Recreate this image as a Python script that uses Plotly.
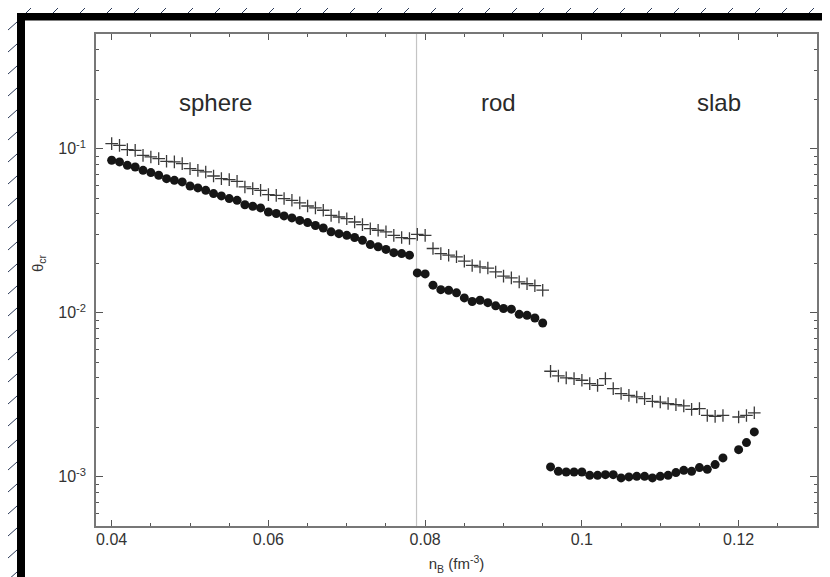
import math
import plotly.graph_objects as go

# critical angle theta_cr vs baryon density n_B
nb_sphere = [0.040, 0.041, 0.042, 0.043, 0.044, 0.045, 0.046, 0.047, 0.048, 0.049,
             0.050, 0.051, 0.052, 0.053, 0.054, 0.055, 0.056, 0.057, 0.058, 0.059,
             0.060, 0.061, 0.062, 0.063, 0.064, 0.065, 0.066, 0.067, 0.068, 0.069,
             0.070, 0.071, 0.072, 0.073, 0.074, 0.075, 0.076, 0.077, 0.078]
plus_sphere = [0.1073, 0.1047, 0.0986, 0.0976, 0.0910, 0.0890, 0.0869, 0.0837, 0.0830, 0.0810,
               0.0755, 0.0737, 0.0721, 0.0681, 0.0656, 0.0647, 0.0632, 0.0584, 0.0570, 0.0557,
               0.0524, 0.0519, 0.0496, 0.0484, 0.0467, 0.0447, 0.0435, 0.0421, 0.0392, 0.0383,
               0.0374, 0.0357, 0.0344, 0.0325, 0.0318, 0.0311, 0.0296, 0.0287, 0.0283]
dot_sphere = [0.0849, 0.0830, 0.0791, 0.0773, 0.0737, 0.0714, 0.0688, 0.0656, 0.0641, 0.0627,
              0.0592, 0.0576, 0.0557, 0.0532, 0.0515, 0.0496, 0.0484, 0.0455, 0.0445, 0.0435,
              0.0411, 0.0402, 0.0389, 0.0378, 0.0365, 0.0354, 0.0340, 0.0328, 0.0311, 0.0303,
              0.0296, 0.0287, 0.0276, 0.0260, 0.0252, 0.0243, 0.0232, 0.0229, 0.0224]

nb_rod = [0.079, 0.080, 0.081, 0.082, 0.083, 0.084, 0.085, 0.086, 0.087, 0.088,
          0.089, 0.090, 0.091, 0.092, 0.093, 0.094, 0.095]
plus_rod = [0.0300, 0.0296, 0.0246, 0.0229, 0.0224, 0.0219, 0.0206, 0.0194, 0.0190, 0.0187,
            0.0177, 0.0167, 0.0163, 0.0154, 0.0150, 0.0146, 0.0137]
dot_rod = [0.01746, 0.01722, 0.0147, 0.0138, 0.0137, 0.0132, 0.0123, 0.0117, 0.0119, 0.0115,
           0.0110, 0.0106, 0.0105, 0.00976, 0.00963, 0.00928, 0.00865]

nb_slab = [0.096, 0.097, 0.098, 0.099, 0.100, 0.101, 0.102, 0.103, 0.104, 0.105,
           0.106, 0.107, 0.108, 0.109, 0.110, 0.111, 0.112, 0.113, 0.114, 0.115,
           0.116, 0.117, 0.118, 0.120, 0.121, 0.122]
plus_slab = [0.00439, 0.00411, 0.00400, 0.00396, 0.00387, 0.00369, 0.00360, 0.00396, 0.00344, 0.00321,
             0.00313, 0.00306, 0.00299, 0.00288, 0.00285, 0.00279, 0.00275, 0.00270, 0.00257, 0.00260,
             0.00236, 0.00233, 0.00236, 0.00231, 0.00236, 0.00245]
dot_slab = [0.001146, 0.001077, 0.001068, 0.001068, 0.001068, 0.001018, 0.001018, 0.001028, 0.001028, 0.000982,
            0.000996, 0.001004, 0.001004, 0.000982, 0.001004, 0.001018, 0.001058, 0.001092, 0.001077, 0.001135,
            0.001108, 0.001184, 0.001300, 0.001461, 0.001612, 0.001874]

nb_boundary = 0.0789   # sphere / rod boundary line

phase_names = ["sphere", "rod", "slab"]
phase_x = [0.0532, 0.0894, 0.1175]
phase_y = 0.19

W, H = 830, 577
L, R, T, B = 88, 21, 26, 59

fig = go.Figure()

nb_all = nb_sphere + nb_rod + nb_slab
fig.add_trace(go.Scatter(x=nb_all, y=plus_sphere + plus_rod + plus_slab, mode="markers",
                         marker=dict(symbol="cross-thin", size=9, color="#3a3a3a",
                                     line=dict(width=1.3, color="#3a3a3a")),
                         showlegend=False))
fig.add_trace(go.Scatter(x=nb_all, y=dot_sphere + dot_rod + dot_slab, mode="markers",
                         marker=dict(symbol="circle", size=9, color="#161616"),
                         showlegend=False))


def px(x, y):
    # page pixels -> paper coordinates
    return (x - L) / (W - L - R), 1 - (y - T) / (H - T - B)


shapes = []
# boundary line
shapes.append(dict(type="line", xref="x", yref="paper", x0=nb_boundary, x1=nb_boundary,
                   y0=0, y1=1, line=dict(color="#c4c4c4", width=1.2), layer="below"))

# hatching outside the black frame
for hx in range(18, 840, 27):
    x0, y0 = px(hx, 5)
    x1, y1 = px(hx + 6, -1)
    shapes.append(dict(type="line", xref="paper", yref="paper", x0=x0, y0=y0, x1=x1, y1=y1,
                       line=dict(color="#2c3a58", width=1)))
for hy in range(14, 590, 22):
    x0, y0 = px(0, hy + 8)
    x1, y1 = px(9, hy)
    shapes.append(dict(type="line", xref="paper", yref="paper", x0=x0, y0=y0, x1=x1, y1=y1,
                       line=dict(color="#2c3a58", width=1)))

# black frame
for (ax, ay, bx, by) in [(9, 5, 830, 12.5), (9, 5, 17, 577), (9, 569, 830, 577), (826, 5, 830, 577)]:
    x0, y0 = px(ax, ay)
    x1, y1 = px(bx, by)
    shapes.append(dict(type="rect", xref="paper", yref="paper", x0=x0, y0=y0, x1=x1, y1=y1,
                       fillcolor="black", line=dict(width=0)))

annotations = []
for name, xv in zip(phase_names, phase_x):
    annotations.append(dict(x=xv, y=math.log10(phase_y), xref="x", yref="y", text=name,
                            showarrow=False,
                            font=dict(size=24, color="#2a2a2a", family="Liberation Sans")))
tx, ty = px(30, 255)
annotations.append(dict(x=tx, y=ty, xref="paper", yref="paper", text="θ<sub>cr</sub>",
                        showarrow=False, textangle=-90, xanchor="center", yanchor="middle",
                        font=dict(size=15, color="#333", family="Liberation Sans")))

minor_y = [k * 10.0 ** e for e in range(-4, 0) for k in range(2, 10)]

fig.update_layout(
    width=W, height=H, margin=dict(l=L, r=R, t=T, b=B),
    paper_bgcolor="white", plot_bgcolor="white",
    font=dict(family="Liberation Sans", color="#333"),
    shapes=shapes, annotations=annotations,
    xaxis=dict(range=[0.038, 0.130], tickvals=[0.04, 0.06, 0.08, 0.1, 0.12],
               ticktext=["0.04", "0.06", "0.08", "0.1", "0.12"],
               ticks="inside", ticklen=6, tickwidth=1.2, tickcolor="#555",
               minor=dict(dtick=0.005, tick0=0.04, ticks="inside", ticklen=3,
                          tickwidth=1, tickcolor="#555", showgrid=False),
               showline=True, linecolor="#777", linewidth=1.5, mirror="ticks",
               showgrid=False, zeroline=False, tickfont=dict(size=16, color="#333"),
               ticklabelstandoff=-2,
               title=dict(text="n<sub>B</sub> (fm<sup>-3</sup>)", font=dict(size=15, color="#333"),
                          standoff=12)),
    yaxis=dict(type="log", range=[-3.30103, -0.30103],
               tickvals=[1e-3, 1e-2, 1e-1],
               ticktext=["10<sup>-3</sup>", "10<sup>-2</sup>", "10<sup>-1</sup>"],
               ticks="inside", ticklen=7, tickwidth=1.2, tickcolor="#555",
               minor=dict(tickvals=minor_y, ticks="inside", ticklen=3, tickwidth=1,
                          tickcolor="#555", showgrid=False),
               showline=True, linecolor="#777", linewidth=1.5, mirror="ticks",
               showgrid=False, zeroline=False, tickfont=dict(size=16, color="#333"),
               ticklabelstandoff=5),
)

fig.write_html("out.html")
